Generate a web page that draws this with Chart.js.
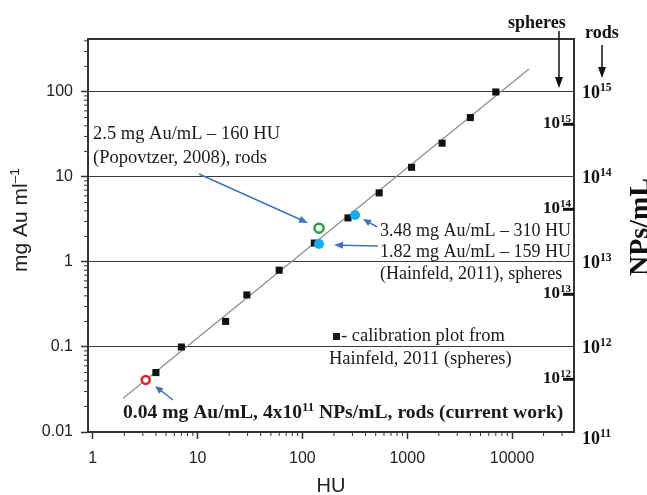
<!DOCTYPE html>
<html>
<head>
<meta charset="utf-8">
<script src="https://cdn.jsdelivr.net/npm/chart.js@4"></script>
<style>
  body { margin: 0; background: #fff; }
  canvas { display: block; }
</style>
</head>
<body>
<canvas id="myChart" width="647" height="495"></canvas>
<script>
// calibration plot (Hainfeld 2011, spheres)
const calibHU = [4, 7, 18.5, 29.5, 60, 130, 272, 540, 1100, 2150, 4000, 7000];
const calibMg = [0.05, 0.1, 0.2, 0.41, 0.8, 1.67, 3.3, 6.5, 13, 25, 50, 100];
// fitted line
const fitHU = [1.95, 14500];
const fitMg = [0.025, 186];
// literature points
const spheresHU = [144, 318];
const spheresMg = [1.63, 3.57];
const rodsHU = [144];
const rodsMg = [2.5];
// current work
const currentHU = [3.2];
const currentMg = [0.041];

const xTicks = [1, 10, 100, 1000, 10000];
const yTicks = [0.01, 0.1, 1, 10, 100];
const rodsNPs = [1e11, 1e12, 1e13, 1e14, 1e15];
const spheresNPs = [1e12, 1e13, 1e14, 1e15];
const rodsPerMg = 1e13;
const spheresPerMg = 2.4e13;

const pts = (xs, ys) => xs.map((x, i) => ({x: x, y: ys[i]}));

function richText(ctx, x, y, parts, size, weight, family, align) {
  const f = s => weight + ' ' + s + 'px ' + family;
  let w = 0;
  parts.forEach(p => { ctx.font = f(p[1] ? size * 0.65 : size); w += ctx.measureText(p[0]).width; });
  let cx = align === 'right' ? x - w : x;
  ctx.textAlign = 'left';
  ctx.textBaseline = 'alphabetic';
  parts.forEach(p => {
    ctx.font = f(p[1] ? size * 0.65 : size);
    ctx.fillText(p[0], cx, p[1] ? y - size * 0.38 : y);
    cx += ctx.measureText(p[0]).width;
  });
}

function arrow(ctx, x1, y1, x2, y2, color, width, head, hw) {
  const a = Math.atan2(y2 - y1, x2 - x1);
  const c = Math.cos(a), s = Math.sin(a);
  ctx.strokeStyle = color;
  ctx.fillStyle = color;
  ctx.lineWidth = width;
  ctx.beginPath();
  ctx.moveTo(x1, y1);
  ctx.lineTo(x2 - head * 0.8 * c, y2 - head * 0.8 * s);
  ctx.stroke();
  ctx.beginPath();
  ctx.moveTo(x2, y2);
  ctx.lineTo(x2 - head * c + hw * s, y2 - head * s - hw * c);
  ctx.lineTo(x2 - head * c - hw * s, y2 - head * s + hw * c);
  ctx.closePath();
  ctx.fill();
}

const serif = '"Liberation Serif", "Times New Roman", serif';
const sans = '"Liberation Sans", Arial, sans-serif';
const blue = '#3f73bf';

const extras = {
  id: 'extras',
  afterDraw(chart) {
    const ctx = chart.ctx;
    const a = chart.chartArea;
    const x = chart.scales.x, y = chart.scales.y;
    ctx.save();

    // frame top + right
    ctx.strokeStyle = '#333';
    ctx.lineWidth = 2;
    ctx.beginPath();
    ctx.moveTo(a.left, a.top);
    ctx.lineTo(a.right, a.top);
    ctx.lineTo(a.right, a.bottom);
    ctx.stroke();

    // minor ticks
    ctx.lineWidth = 1;
    ctx.beginPath();
    for (let e = 0; e <= 4; e++) {
      for (let k = 2; k <= 9; k++) {
        const v = k * Math.pow(10, e);
        if (v >= x.max) continue;
        const px = x.getPixelForValue(v);
        ctx.moveTo(px, a.bottom);
        ctx.lineTo(px, a.bottom + 4);
      }
    }
    for (let e = -2; e <= 2; e++) {
      for (let k = 2; k <= 9; k++) {
        const v = k * Math.pow(10, e);
        if (v >= y.max) continue;
        const py = y.getPixelForValue(v);
        ctx.moveTo(a.left, py);
        ctx.lineTo(a.left - 4, py);
      }
    }
    ctx.stroke();

    ctx.fillStyle = '#111';
    // rods NP scale (outside)
    rodsNPs.forEach((n, i) => {
      const py = y.getPixelForValue(n / rodsPerMg);
      const exp = String(Math.round(Math.log10(n)));
      richText(ctx, a.right + 8, py + (i === 0 ? 12 : 6), [['10'], [exp, true]], 18, 'bold', serif, 'left');
    });
    // spheres NP scale (inside)
    spheresNPs.forEach(n => {
      const py = y.getPixelForValue(n / spheresPerMg);
      const exp = String(Math.round(Math.log10(n)));
      ctx.fillStyle = '#111';
      richText(ctx, a.right - 3, py + 4, [['10'], [exp, true]], 17, 'bold', serif, 'right');
      ctx.strokeStyle = '#111';
      ctx.lineWidth = 3;
      ctx.beginPath();
      ctx.moveTo(a.right - 11, py);
      ctx.lineTo(a.right, py);
      ctx.stroke();
    });

    // spheres / rods headers
    ctx.fillStyle = '#111';
    richText(ctx, 508, 28, [['spheres']], 18, 'bold', serif, 'left');
    richText(ctx, 585, 38, [['rods']], 18, 'bold', serif, 'left');
    arrow(ctx, 559, 31, 559, 88, '#111', 1.5, 11, 4);
    arrow(ctx, 602, 45, 602, 78, '#111', 1.5, 11, 4);

    // axis titles
    ctx.fillStyle = '#222';
    ctx.save();
    ctx.translate(27, 272);
    ctx.rotate(-Math.PI / 2);
    richText(ctx, 0, 0, [['mg Au ml'], ['\u20131', true]], 21, 'normal', sans, 'left');
    ctx.restore();
    ctx.fillStyle = '#111';
    ctx.save();
    ctx.translate(648, 276);
    ctx.rotate(-Math.PI / 2);
    richText(ctx, 0, 0, [['NPs/mL']], 28, 'bold', serif, 'left');
    ctx.restore();

    // annotations
    ctx.fillStyle = '#1a1a1a';
    richText(ctx, 93, 139, [['2.5 mg Au/mL \u2013 160 HU']], 18.5, 'normal', serif, 'left');
    richText(ctx, 93, 163, [['(Popovtzer, 2008), rods']], 18.5, 'normal', serif, 'left');
    richText(ctx, 380, 236, [['3.48 mg Au/mL \u2013 310 HU']], 18, 'normal', serif, 'left');
    richText(ctx, 380, 257, [['1.82 mg Au/mL \u2013 159 HU']], 18, 'normal', serif, 'left');
    richText(ctx, 380, 279, [['(Hainfeld, 2011), spheres']], 18, 'normal', serif, 'left');
    ctx.fillRect(333, 333, 7, 7);
    richText(ctx, 341, 341, [['- calibration plot from']], 18.5, 'normal', serif, 'left');
    richText(ctx, 329, 364, [['Hainfeld, 2011 (spheres)']], 18.5, 'normal', serif, 'left');
    richText(ctx, 123, 418, [['0.04 mg Au/mL, 4x10'], ['11', true], [' NPs/mL, rods (current work)']], 19.6, 'bold', serif, 'left');

    arrow(ctx, 199, 174, 308, 223, blue, 1.5, 9, 3.5);
    arrow(ctx, 377, 227, 363, 219, blue, 1.5, 8, 3.5);
    arrow(ctx, 378, 246, 334, 245, blue, 1.5, 9, 3.5);
    arrow(ctx, 173, 400, 155, 386, blue, 1.5, 8, 3.5);

    ctx.restore();
  }
};

new Chart(document.getElementById('myChart'), {
  type: 'scatter',
  data: {
    datasets: [
      {
        data: pts(currentHU, currentMg), order: 0,
        pointRadius: 4, pointBorderWidth: 2.5, borderColor: '#ec1c24', backgroundColor: '#fff'
      },
      {
        data: pts(rodsHU, rodsMg), order: 1,
        pointRadius: 4.5, pointBorderWidth: 2.5, borderColor: '#21a448', backgroundColor: '#fff'
      },
      {
        data: pts(spheresHU, spheresMg), order: 2,
        pointRadius: 5, pointBorderWidth: 0, borderColor: '#12aef0', backgroundColor: '#12aef0'
      },
      {
        data: pts(calibHU, calibMg), order: 3,
        pointStyle: 'rect', pointRadius: 5, pointBorderWidth: 0, borderColor: '#111', backgroundColor: '#111'
      },
      {
        data: pts(fitHU, fitMg), order: 4, showLine: true,
        pointRadius: 0, borderColor: '#8c8c8c', borderWidth: 1.2
      }
    ]
  },
  options: {
    responsive: false,
    animation: false,
    devicePixelRatio: 1,
    layout: { padding: { top: 39, right: 73, left: 0, bottom: 0 } },
    plugins: { legend: { display: false }, tooltip: { enabled: false } },
    scales: {
      x: {
        type: 'logarithmic',
        min: 0.9,
        max: 39000,
        afterBuildTicks: s => { s.ticks = xTicks.map(v => ({value: v, major: true})); },
        afterFit: s => { s.height = 63; },
        grid: { drawOnChartArea: false, tickLength: 7, tickColor: '#333', tickWidth: 1.5 },
        border: { color: '#333', width: 2 },
        ticks: {
          autoSkip: false, maxRotation: 0, padding: 10, color: '#222',
          font: { family: sans, size: 16 },
          callback: v => String(v)
        },
        title: { display: true, text: 'HU', color: '#222', font: { family: sans, size: 20 }, padding: { top: 0, bottom: -3 } }
      },
      y: {
        type: 'logarithmic',
        min: 0.01,
        max: 420,
        afterBuildTicks: s => { s.ticks = yTicks.map(v => ({value: v, major: true})); },
        afterFit: s => { s.width = 88; },
        grid: { color: '#3a3a3a', lineWidth: 1, tickLength: 7, tickColor: '#333', tickWidth: 1.5 },
        border: { color: '#333', width: 2 },
        ticks: {
          autoSkip: false, padding: 8, color: '#222',
          font: { family: sans, size: 16 },
          callback: v => String(v)
        }
      }
    }
  },
  plugins: [extras]
});
</script>
</body>
</html>
